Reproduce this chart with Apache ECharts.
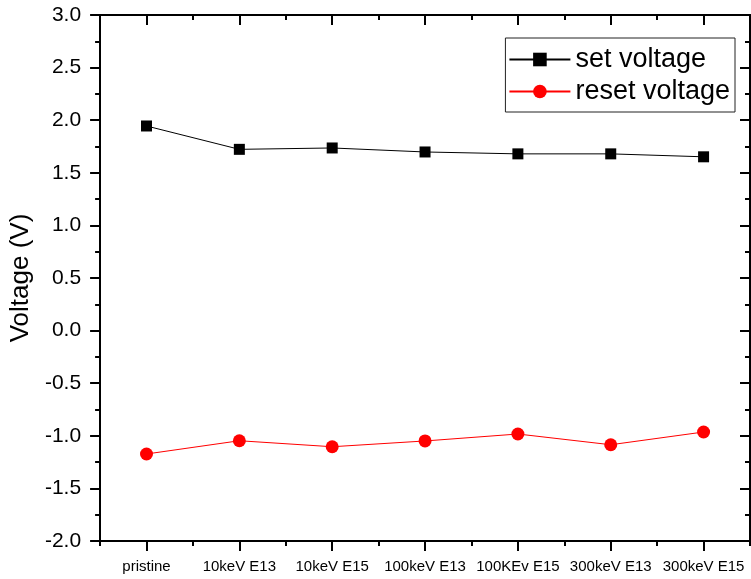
<!DOCTYPE html>
<html>
<head>
<meta charset="utf-8">
<title>Voltage</title>
<script src="https://cdn.jsdelivr.net/npm/echarts@6/dist/echarts.min.js"></script>
<style>
  html, body { margin: 0; padding: 0; background: #fff; }
  #main { width: 751px; height: 579px; }
</style>
</head>
<body>
<div id="main"></div>
<script type="text/javascript">
  // 数据
  var categories = ['pristine', '10keV E13', '10keV E15', '100keV E13', '100KEv E15', '300keV E13', '300keV E15'];
  var setVoltage = [1.945, 1.723, 1.736, 1.698, 1.68, 1.68, 1.652];
  var resetVoltage = [-1.173, -1.047, -1.104, -1.049, -0.983, -1.085, -0.964];
  var yMin = -2.0, yMax = 3.0, yStep = 0.5;

  var font = 'Liberation Sans, Arial, sans-serif';
  var axisLine = { show: true, onZero: false, lineStyle: { color: '#000', width: 2 } };

  function xAxisOf(pos, centre, len, inside, labels) {
    return {
      type: 'category',
      data: categories,
      position: pos,
      boundaryGap: true,
      axisLine: axisLine,
      axisTick: { show: true, alignWithLabel: centre, inside: inside, length: len, lineStyle: { color: '#000', width: 2 } },
      axisLabel: { show: labels, color: '#000', fontFamily: font, fontSize: 15, margin: 18, interval: 0 },
      splitLine: { show: false }
    };
  }

  function yAxisOf(pos, inside, labels) {
    return {
      type: 'value',
      position: pos,
      min: yMin,
      max: yMax,
      interval: yStep,
      name: labels ? 'Voltage (V)' : '',
      nameLocation: 'middle',
      nameGap: 60,
      nameTextStyle: { color: '#000', fontFamily: font, fontSize: 26 },
      axisLine: axisLine,
      axisTick: { show: true, inside: inside, length: 10, lineStyle: { color: '#000', width: 2 } },
      minorTick: { show: true, splitNumber: 2, length: 5, lineStyle: { color: '#000', width: 2 } },
      axisLabel: {
        show: labels, color: '#000', fontFamily: font, fontSize: 21, margin: 19,
        formatter: function (v) { return v.toFixed(1); }
      },
      splitLine: { show: false },
      minorSplitLine: { show: false }
    };
  }

  var myChart = echarts.init(document.getElementById('main'));
  var option = {
    backgroundColor: '#fff',
    animation: false,
    grid: { left: 100, right: 1, top: 15, bottom: 38, containLabel: false },
    legend: {
      right: 16,
      top: 38,
      orient: 'vertical',
      padding: [8, 5, 7, 3],
      itemWidth: 61,
      itemHeight: 17,
      itemGap: 5,
      borderColor: '#222',
      borderWidth: 1,
      borderRadius: 0,
      textStyle: { color: '#000', fontFamily: font, fontSize: 27, padding: [0, 0, 0, 0] },
      data: ['set voltage', 'reset voltage']
    },
    xAxis: [
      xAxisOf('bottom', true, 10, false, true),
      xAxisOf('bottom', false, 5, false, false),
      xAxisOf('top', true, 10, true, false),
      xAxisOf('top', false, 5, true, false)
    ],
    yAxis: [
      yAxisOf('left', false, true),
      yAxisOf('right', true, false)
    ],
    series: [
      {
        name: 'set voltage',
        type: 'line',
        xAxisIndex: 0,
        yAxisIndex: 0,
        data: setVoltage,
        symbol: 'rect',
        symbolSize: 11,
        itemStyle: { color: '#000' },
        lineStyle: { color: '#000', width: 1 }
      },
      {
        name: 'reset voltage',
        type: 'line',
        xAxisIndex: 0,
        yAxisIndex: 0,
        data: resetVoltage,
        symbol: 'circle',
        symbolSize: 13,
        itemStyle: { color: '#ff0000' },
        lineStyle: { color: '#ff0000', width: 1 }
      }
    ]
  };
  myChart.setOption(option);
</script>
</body>
</html>
